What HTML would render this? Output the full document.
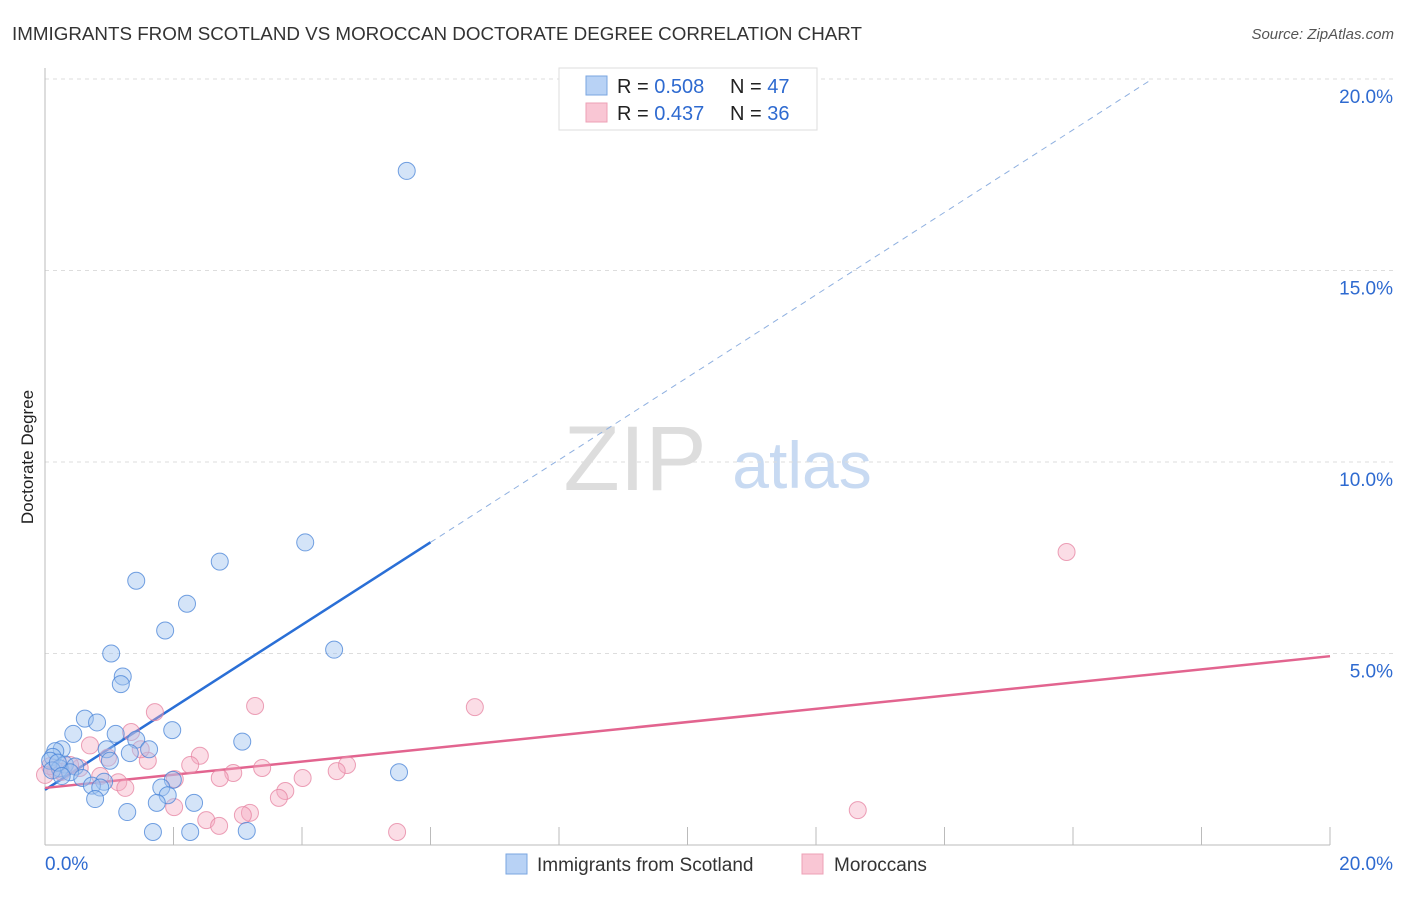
<!DOCTYPE html>
<html><head><meta charset="utf-8"><style>
body{margin:0;background:#fff;font-family:"Liberation Sans",sans-serif;}
svg text{font-family:"Liberation Sans",sans-serif;}
</style></head><body>
<svg id="chart" width="1406" height="892">
<text x="12" y="40" font-size="18" fill="#333" textLength="850" lengthAdjust="spacingAndGlyphs">IMMIGRANTS FROM SCOTLAND VS MOROCCAN DOCTORATE DEGREE CORRELATION CHART</text>
<text x="1394" y="39" font-size="15" fill="#555" font-style="italic" text-anchor="end">Source: ZipAtlas.com</text>
<text x="33" y="457" font-size="17" fill="#222" text-anchor="middle" transform="rotate(-90 33 457)">Doctorate Degree</text>
<g><text x="635" y="490" font-size="92" fill="#ddd" font-family="Liberation Serif" text-anchor="middle">ZIP</text><text x="802" y="488" font-size="66" fill="#c8daf2" text-anchor="middle">atlas</text></g>
<g id="grid"></g><g id="axes"></g><g id="lines"></g><g id="pts"></g>
<g>
<rect x="559" y="68" width="258" height="62" fill="#fff" stroke="#ddd"/>
<rect x="586" y="76" width="21" height="19" fill="#b8d2f5" stroke="#7aa6e0"/>
<rect x="586" y="103" width="21" height="19" fill="#f9c6d4" stroke="#eda0b6"/>
<text x="617" y="93" font-size="20" fill="#222">R = <tspan fill="#2e6ad0">0.508</tspan><tspan x="730">N = </tspan><tspan fill="#2e6ad0">47</tspan></text>
<text x="617" y="120" font-size="20" fill="#222">R = <tspan fill="#2e6ad0"> 0.437</tspan><tspan x="730">N = </tspan><tspan fill="#2e6ad0">36</tspan></text>
</g>
<g>
<rect x="506" y="854" width="21" height="20" fill="#b8d2f5" stroke="#7aa6e0"/>
<text x="537" y="871" font-size="19" fill="#333">Immigrants from Scotland</text>
<rect x="802" y="854" width="21" height="20" fill="#f9c6d4" stroke="#eda0b6"/>
<text x="834" y="871" font-size="19" fill="#333">Moroccans</text>
</g>
</svg>
<script>
const yTicks=[5,10,15,20];
const xTickLabels=["0.0%","20.0%"];
const blueX=[5.63,4.05,2.72,1.42,2.21,1.87,4.50,1.03,1.21,1.18,0.62,0.81,1.98,0.44,1.10,3.07,1.42,0.96,1.62,1.32,0.26,0.16,0.12,0.08,0.31,0.23,0.47,0.39,0.58,5.51,1.99,0.92,0.73,0.86,1.81,1.91,0.78,2.32,1.74,1.28,1.68,2.26,3.14,0.11,0.2,1.01,0.26];
const blueY=[17.6,7.9,7.4,6.9,6.3,5.6,5.1,5.0,4.4,4.2,3.3,3.2,3.0,2.9,2.9,2.7,2.75,2.5,2.5,2.4,2.5,2.45,2.3,2.2,2.1,2.0,2.05,1.9,1.75,1.9,1.7,1.65,1.55,1.5,1.5,1.3,1.2,1.1,1.1,0.86,0.34,0.34,0.37,1.95,2.15,2.2,1.8];
const pinkX=[15.9,6.69,3.27,1.71,0.7,1.34,1.6,1.49,2.41,0.98,2.26,3.38,2.93,2.72,4.7,4.01,4.54,2.02,1.14,1.25,0.86,3.74,3.64,2.01,12.65,3.19,3.08,2.51,2.71,5.48,0.16,0.08,0.26,0.54,0.39,0.0];
const pinkY=[7.65,3.6,3.63,3.47,2.6,2.95,2.2,2.5,2.33,2.28,2.09,2.01,1.88,1.75,2.09,1.75,1.93,1.72,1.64,1.49,1.8,1.41,1.23,0.99,0.91,0.84,0.78,0.65,0.5,0.34,1.96,2.06,1.91,2.01,2.09,1.83];
const fitIntercept=[1.44,1.49];
const fitSlope=[1.077,0.172];
const NS="http://www.w3.org/2000/svg";
const X=v=>45+v/20*1285, Y=v=>845-v/20*766;
function mk(t,a,p){const e=document.createElementNS(NS,t);for(const k in a)e.setAttribute(k,a[k]);p.appendChild(e);return e;}
const grid=document.getElementById('grid'),axes=document.getElementById('axes');
yTicks.forEach(v=>{
 const l=mk('line',{x1:45,x2:1395,y1:Y(v),y2:Y(v),stroke:'#ddd','stroke-dasharray':'4 4'},grid);
 
 
 const t=mk('text',{x:1393,y:Y(v)+24,'font-size':19,fill:'#2e6ad0','text-anchor':'end'},grid);
 t.textContent=v.toFixed(1)+'%';
 
 
});
mk('line',{x1:45,x2:45,y1:68,y2:845,stroke:'#bbb'},axes);
mk('line',{x1:45,x2:1330,y1:845,y2:845,stroke:'#bbb'},axes);
for(let i=1;i<=10;i++){mk('line',{x1:X(i*2),x2:X(i*2),y1:827,y2:845,stroke:'#bbb'},axes);}
xTickLabels.forEach((s,i)=>{const t=mk('text',{x:i?1393:45,y:870,'font-size':19,fill:'#2e6ad0','text-anchor':i?'end':'start'},axes);t.textContent=s;
 
 });
const lines=document.getElementById('lines');
let b=mk('line',{x1:X(0),y1:Y(fitIntercept[0]),x2:X(6),y2:Y(fitIntercept[0]+fitSlope[0]*6),stroke:'#2a6fd6','stroke-width':2.5},lines);


const xe=(20-fitIntercept[0])/fitSlope[0];
let bd=mk('line',{x1:X(6),y1:Y(fitIntercept[0]+fitSlope[0]*6),x2:X(xe),y2:Y(20),stroke:'#8fb0e0','stroke-width':1,'stroke-dasharray':'6 5'},lines);


let p=mk('line',{x1:X(0),y1:Y(fitIntercept[1]),x2:X(20),y2:Y(fitIntercept[1]+fitSlope[1]*20),stroke:'#e2648f','stroke-width':2.5},lines);


const pts=document.getElementById('pts');
pinkX.forEach((x,i)=>{const c=mk('circle',{cx:X(x),cy:Y(pinkY[i]),r:8.5,fill:'rgba(246,170,192,0.4)',stroke:'rgba(230,130,160,0.75)','stroke-width':1},pts);
 
 });
blueX.forEach((x,i)=>{const c=mk('circle',{cx:X(x),cy:Y(blueY[i]),r:8.5,fill:'rgba(160,195,240,0.45)',stroke:'rgba(70,130,215,0.75)','stroke-width':1},pts);
 
 });
</script>
</body></html>
